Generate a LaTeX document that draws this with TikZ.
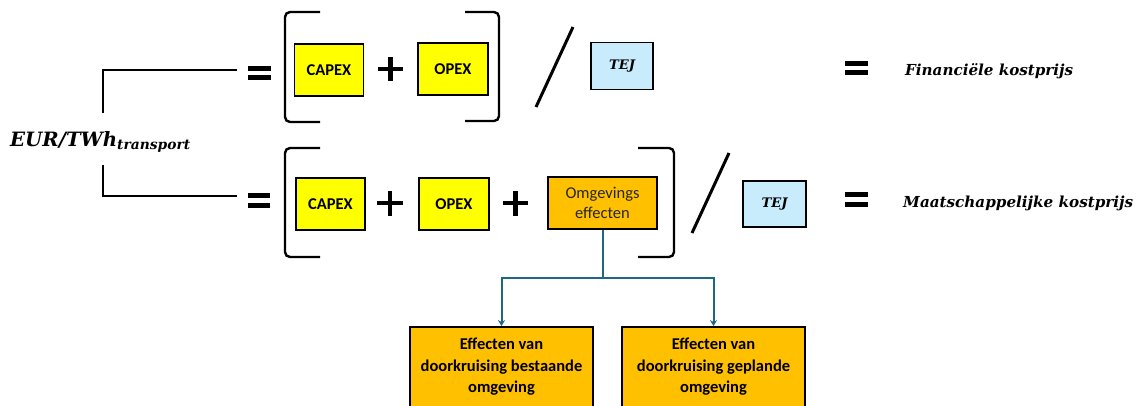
\documentclass[tikz,border=0pt]{standalone}
\usepackage{fontspec}
\setmainfont{Carlito}
\newfontfamily\mfont{DejaVu Serif}
\usetikzlibrary{arrows.meta}
\definecolor{yel}{RGB}{255,255,0}
\definecolor{org}{RGB}{255,192,0}
\definecolor{lblue}{RGB}{200,236,252}
\definecolor{teal2}{RGB}{31,103,130}
\tikzset{
  ybox/.style={draw=black, line width=1.8pt, fill=yel, inner sep=0pt, font=\fontsize{16.5}{18}\selectfont\bfseries, minimum width=69pt, minimum height=52pt},
  tbox/.style={draw=black, line width=1.8pt, fill=lblue, inner sep=0pt, minimum width=62pt, minimum height=47pt},
  obox/.style={draw=black, line width=1.8pt, fill=org, inner sep=0pt, align=center},
  brk/.style={line width=2.4pt, rounded corners=5pt},
  lead/.style={line width=2pt},
  slash/.style={line width=3pt},
  plusline/.style={line width=4.2pt},
  conn/.style={draw=teal2, line width=2pt},
  mtext/.style={inner sep=0pt, anchor=base west}
}
\begin{document}
\begin{tikzpicture}[x=1pt,y=-1pt]
\clip (0,0) rectangle (1140,405);
\fill[white] (0,0) rectangle (1140,405);
% left label
\node[mtext] (eur) at (10,146) {\resizebox{180pt}{!}{\mfont\bfseries\itshape\fontsize{20}{22}\selectfont EUR/TWh\raisebox{-0.3ex}{\fontsize{14}{16}\selectfont transport}}};
\coordinate (l1a) at (103,113);
\coordinate (l1b) at (237,70);
\coordinate (l2a) at (103,165);
\coordinate (l2b) at (237,196);
\draw[lead] (l1a) |- (l1b);
\draw[lead] (l2a) |- (l2b);
% equal signs
\fill (248,66) rectangle (271,71);
\fill (248,75) rectangle (271,80);
\fill (248,193) rectangle (270,198);
\fill (248,203) rectangle (270,208);
\fill (845,61) rectangle (868,66);
\fill (845,70) rectangle (868,75);
\fill (845,192) rectangle (868,197);
\fill (845,202) rectangle (868,207);
% brackets
\draw[brk] (320,12) -- (285,12) -- (285,122) -- (320,122);
\draw[brk] (465,12) -- (499,12) -- (499,121) -- (465,121);
\draw[brk] (320,148) -- (285,148) -- (285,257) -- (320,257);
\draw[brk] (638,148) -- (674,148) -- (674,257) -- (638,257);
% row 1
\node[ybox] (capex1) at (329,70) {CAPEX};
\draw[plusline] (378,69) -- (403,69);
\draw[plusline] (390.5,57) -- (390.5,81);
\node[ybox, minimum width=70pt] (opex1) at (453,69) {OPEX};
\draw[slash] (536,107) -- (573,27);
\node[tbox] (tej1) at (622,66) {\resizebox{26pt}{!}{\mfont\bfseries\itshape TEJ}};
\node[mtext] (fin) at (905,75) {\resizebox{168pt}{!}{\mfont\bfseries\itshape Financiële kostprijs}};
% row 2
\node[ybox] (capex2) at (330.5,204) {CAPEX};
\draw[plusline] (377,203) -- (403,203);
\draw[plusline] (390,191) -- (390,216);
\node[ybox, minimum width=70pt] (opex2) at (454,204) {OPEX};
\draw[plusline] (503,203) -- (528,203);
\draw[plusline] (515.5,191) -- (515.5,216);
\node[obox, minimum width=109pt, minimum height=52pt, font=\fontsize{16.5}{20}\selectfont, text=black!85] (omg) at (602.5,203) {Omgevings\\effecten};
\draw[slash] (692,233) -- (729,153);
\node[tbox, minimum width=63pt, minimum height=46pt] (tej2) at (774.5,204) {\resizebox{26pt}{!}{\mfont\bfseries\itshape TEJ}};
\node[mtext] (maat) at (903,207) {\resizebox{230pt}{!}{\mfont\bfseries\itshape Maatschappelijke kostprijs}};
% bottom
\node[obox, minimum width=183pt, minimum height=80pt, font=\fontsize{16.5}{21.5}\selectfont\bfseries] (eff1) at (501.5,367) {Effecten van\\doorkruising bestaande\\omgeving};
\node[obox, minimum width=183pt, minimum height=80pt, font=\fontsize{16.5}{21.5}\selectfont\bfseries] (eff2) at (713.5,367) {Effecten van\\doorkruising geplande\\omgeving};
\coordinate (split) at (602.5,278);
\draw[conn] (omg.south) -- (split);
\draw[conn, -{Stealth[length=6pt,width=7pt]}] (split) -| (eff1.north);
\draw[conn, -{Stealth[length=6pt,width=7pt]}] (split) -| (eff2.north);
\end{tikzpicture}
\end{document}
